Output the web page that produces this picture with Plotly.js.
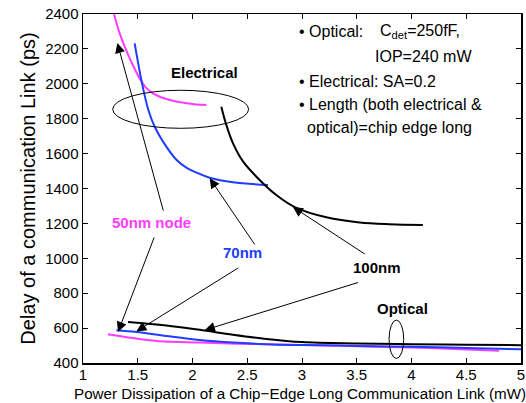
<!DOCTYPE html>
<html>
<head>
<meta charset="utf-8">
<script src="https://cdn.plot.ly/plotly-3.0.1.min.js"></script>
<style>html,body{margin:0;padding:0;background:#fff;}#chart{width:526px;height:403px;}</style>
</head>
<body>
<div id="chart"></div>
<script>
// Electrical links (delay in ps vs power in mW)
const elec50X = [1.283, 1.335, 1.396, 1.457, 1.518, 1.579, 1.64, 1.70, 1.761, 1.85, 1.944, 2.03, 2.126];
const elec50Y = [2400, 2289, 2190, 2105, 2030, 1975, 1945, 1926, 1913, 1898, 1888, 1882, 1879];
const elec70X = [1.472, 1.539, 1.597, 1.655, 1.761, 1.853, 1.944, 2.06, 2.157, 2.369, 2.689];
const elec70Y = [2232, 2003, 1850, 1754, 1640, 1565, 1520, 1485, 1462, 1436, 1420];
const elec100X = [2.263, 2.309, 2.369, 2.461, 2.613, 2.765, 2.948, 3.222, 3.526, 3.8, 4.104];
const elec100Y = [1869, 1764, 1660, 1555, 1449, 1363, 1289, 1235, 1205, 1195, 1191];
// Optical links
const opt50X = [1.228, 1.456, 1.7, 2.065, 2.522, 3.0, 3.5, 4.0, 4.5, 4.8];
const opt50Y = [565, 543, 525, 517, 509, 503, 496, 489, 478, 470];
const opt70X = [1.305, 1.487, 1.761, 2.065, 2.369, 2.674, 3.0, 3.5, 4.0, 4.5, 5.0];
const opt70Y = [588, 578, 555, 532, 517, 508, 503, 498, 493, 486, 479];
const opt100X = [1.411, 1.761, 2.065, 2.369, 2.674, 3.0, 3.5, 4.0, 4.5, 5.0];
const opt100Y = [635, 615, 590, 562, 538, 520, 512, 508, 505, 502];

const xTicks = [1, 1.5, 2, 2.5, 3, 3.5, 4, 4.5, 5];
const xTickText = ['1', '1.5', '2', '2.5', '3', '3.5', '4', '4.5', '5'];
const yTicks = [400, 600, 800, 1000, 1200, 1400, 1600, 1800, 2000, 2200, 2400];
const xTitle = 'Power Dissipation of a Chip\u2212Edge Long Communication Link (mW)';
const yTitle = 'Delay of a communication Link (ps)';

const MAG = '#ff3cff', BLUE = '#1f3cff', BLK = '#000000';
const FONT = 'Liberation Sans, Arial, Helvetica, sans-serif';

function line(x, y, color) {
  return {x: x, y: y, type: 'scatter', mode: 'lines', showlegend: false, hoverinfo: 'skip',
    line: {color: color, width: 2, shape: 'spline', smoothing: 1}};
}
const data = [
  line(elec50X, elec50Y, MAG), line(elec70X, elec70Y, BLUE), line(elec100X, elec100Y, BLK),
  line(opt50X, opt50Y, MAG), line(opt70X, opt70Y, BLUE), line(opt100X, opt100Y, BLK)
];

function lbl(x, y, text, color, anchor, size) {
  return {x: x, y: y, xref: 'x', yref: 'y', text: text, showarrow: false,
    xanchor: anchor || 'center', yanchor: 'middle', font: {family: FONT, size: size || 15, color: color || BLK}};
}
function arrow(tx, ty, sx, sy) {
  return {x: tx, y: ty, ax: sx, ay: sy, xref: 'x', yref: 'y', axref: 'x', ayref: 'y', text: '',
    showarrow: true, arrowhead: 2, arrowsize: 2, arrowwidth: 1, arrowcolor: BLK, standoff: 0, startstandoff: 0};
}
const annotations = [
  lbl(2.111, 2062, '<b>Electrical</b>'),
  lbl(1.623, 1208, '<b>50nm node</b>', MAG),
  lbl(2.458, 1036, '<b>70nm</b>', BLUE),
  lbl(3.689, 945, '<b>100nm</b>'),
  lbl(3.918, 710, '<b>Optical</b>'),
  lbl(2.955, 2300, '• Optical:', BLK, 'left', 16),
  lbl(3.695, 2300, 'C<sub>det</sub>=250fF,', BLK, 'left', 16),
  lbl(3.650, 2154, 'IOP=240 mW', BLK, 'left', 16),
  lbl(2.955, 2016, '• Electrical: SA=0.2', BLK, 'left', 16),
  lbl(2.955, 1879, '• Length (both electrical &', BLK, 'left', 16),
  lbl(3.030, 1747, 'optical)=chip edge long', BLK, 'left', 16),
  {x: 0.4954, y: -0.0875, xref: 'paper', yref: 'paper', text: xTitle, showarrow: false, borderpad: 0,
    xanchor: 'center', yanchor: 'middle', font: {family: FONT, size: 15.2, color: BLK}},
  arrow(1.314, 2234, 1.737, 1265),
  arrow(1.320, 578, 1.655, 1128),
  arrow(2.157, 1459, 2.577, 1071),
  arrow(1.487, 581, 2.431, 950),
  arrow(2.917, 1294, 3.587, 1019),
  arrow(2.113, 589, 3.526, 864)
];

const shapes = [
  {type: 'circle', xref: 'x', yref: 'y', x0: 1.271, x1: 2.513, y0: 1745, y1: 1963, line: {color: BLK, width: 1}},
  {type: 'circle', xref: 'x', yref: 'y', x0: 3.795, x1: 3.929, y0: 426, y1: 646, line: {color: BLK, width: 1}}
];

const axisCommon = {showgrid: false, zeroline: false, showline: true, linecolor: BLK, linewidth: 1.5,
  mirror: 'ticks', ticks: 'inside', ticklen: 5, tickcolor: BLK, tickwidth: 1,
  tickfont: {family: FONT, size: 15, color: BLK}};

const layout = {
  width: 526, height: 403,
  margin: {l: 83, r: 5, t: 14, b: 40, pad: 0},
  paper_bgcolor: '#ffffff', plot_bgcolor: '#ffffff',
  font: {family: FONT, color: BLK},
  xaxis: Object.assign({}, axisCommon, {range: [1, 5], tickvals: xTicks, ticktext: xTickText, ticklabelstandoff: -3}),
  yaxis: Object.assign({}, axisCommon, {range: [400, 2400], tickvals: yTicks,
    title: {text: yTitle, font: {family: FONT, size: 20, color: BLK}, standoff: 4}}),
  annotations: annotations,
  shapes: shapes,
  showlegend: false
};
Plotly.newPlot('chart', data, layout, {displayModeBar: false, staticPlot: true});
</script>
</body>
</html>
